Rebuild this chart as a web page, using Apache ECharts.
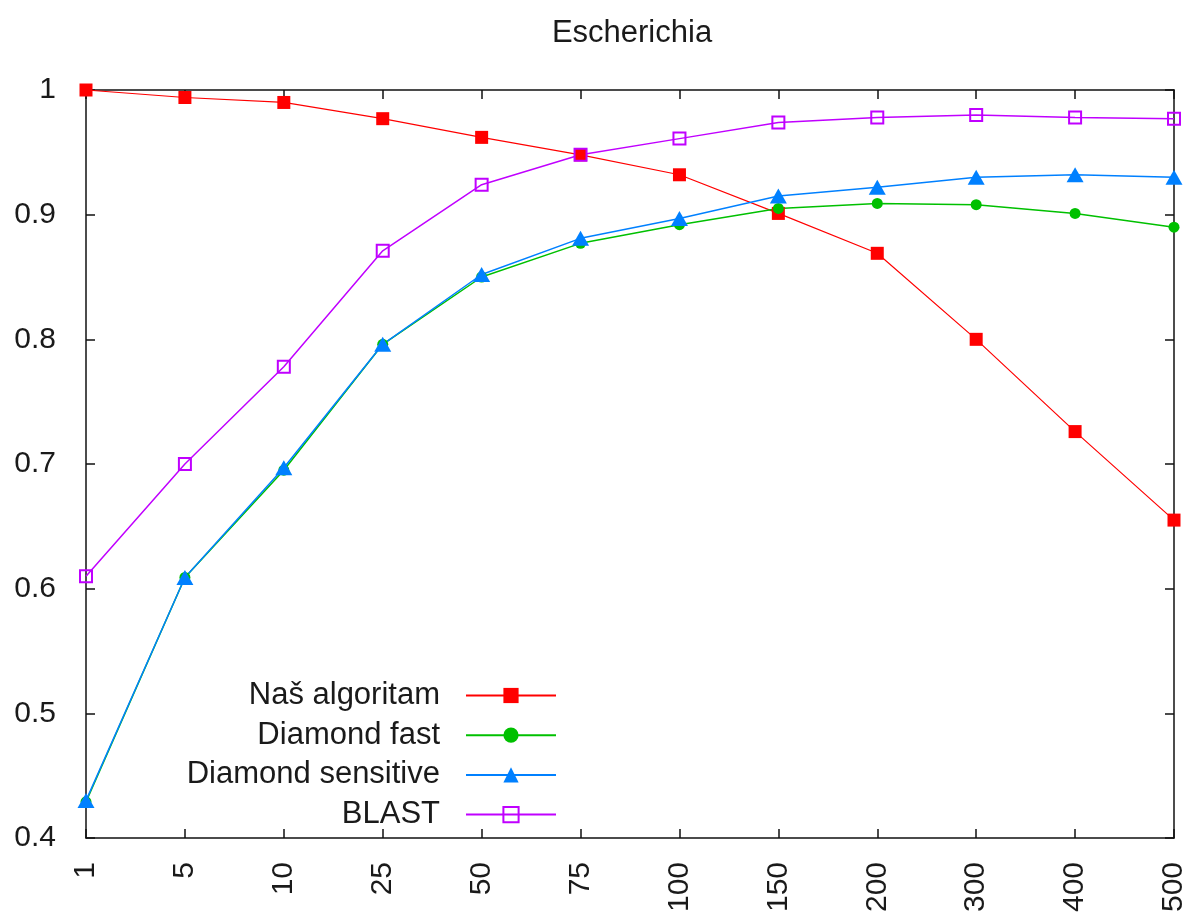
<!DOCTYPE html>
<html>
<head>
<meta charset="utf-8">
<script src="https://cdn.jsdelivr.net/npm/echarts@6/dist/echarts.min.js"></script>
<style>html,body{margin:0;padding:0;background:#fff}#c{width:1189px;height:918px}</style>
</head>
<body>
<div id="c"></div>
<script>
const categories = ['1','5','10','25','50','75','100','150','200','300','400','500'];
const nasAlgoritam = [1.000, 0.994, 0.990, 0.977, 0.962, 0.948, 0.932, 0.901, 0.869, 0.800, 0.726, 0.655];
const diamondFast = [0.429, 0.609, 0.695, 0.796, 0.850, 0.877, 0.892, 0.905, 0.909, 0.908, 0.901, 0.890];
const diamondSensitive = [0.430, 0.609, 0.697, 0.796, 0.852, 0.881, 0.897, 0.915, 0.922, 0.930, 0.932, 0.930];
const blast = [0.610, 0.700, 0.778, 0.871, 0.924, 0.948, 0.961, 0.974, 0.978, 0.980, 0.978, 0.977];
const yTicks = {min: 0.4, max: 1.0, interval: 0.1};

const FONT = '"Liberation Sans", Arial, sans-serif';
const TXT = '#1a1a1a';
const chart = echarts.init(document.getElementById('c'), null, {renderer: 'canvas'});

const axisLineStyle = {color: '#111', width: 1.5};
const tickStyle = {color: '#111', width: 1.5};

chart.setOption({
  animation: false,
  backgroundColor: '#fff',
  title: {
    text: 'Escherichia', left: 627, top: 13, textAlign: 'center',
    textStyle: {fontFamily: FONT, fontSize: 31, fontWeight: 'normal', color: TXT}
  },
  grid: {left: 86, right: 13, top: 90, bottom: 80, containLabel: false},
  legend: {
    orient: 'vertical', right: 627, top: 675, align: 'right',
    itemWidth: 90, itemHeight: 19, itemGap: 8.7,
    textStyle: {fontFamily: FONT, fontSize: 31, color: TXT, lineHeight: 30, padding: [0, 21, 0, 0]},
    data: ['Naš algoritam', 'Diamond fast', 'Diamond sensitive', 'BLAST']
  },
  xAxis: [{
    type: 'category', data: categories, boundaryGap: false, position: 'bottom',
    axisLine: {show: true, lineStyle: axisLineStyle},
    axisTick: {show: true, inside: true, length: 9, lineStyle: tickStyle, alignWithLabel: true},
    axisLabel: {rotate: 90, margin: 24, fontFamily: FONT, fontSize: 30, color: TXT, interval: 0},
    splitLine: {show: false}
  }, {
    type: 'category', data: categories, boundaryGap: false, position: 'top',
    axisLine: {show: true, lineStyle: axisLineStyle},
    axisTick: {show: true, inside: true, length: 9, lineStyle: tickStyle},
    axisLabel: {show: false}, splitLine: {show: false}
  }],
  yAxis: [{
    type: 'value', min: yTicks.min, max: yTicks.max, interval: yTicks.interval, position: 'left',
    axisLine: {show: true, lineStyle: axisLineStyle},
    axisTick: {show: true, inside: true, length: 9, lineStyle: tickStyle},
    axisLabel: {margin: 30, fontFamily: FONT, fontSize: 30, color: TXT,
      formatter: v => (Math.abs(v - 1) < 1e-9 ? '1' : v.toFixed(1))},
    splitLine: {show: false}
  }, {
    type: 'value', min: yTicks.min, max: yTicks.max, interval: yTicks.interval, position: 'right',
    axisLine: {show: true, lineStyle: axisLineStyle},
    axisTick: {show: true, inside: true, length: 9, lineStyle: tickStyle},
    axisLabel: {show: false}, splitLine: {show: false}
  }],
  series: [{
    name: 'Naš algoritam', type: 'line', data: nasAlgoritam,
    symbol: 'rect', symbolSize: 13, color: '#ff0000',
    lineStyle: {color: '#ff0000', width: 1.2}, itemStyle: {color: '#ff0000'}
  }, {
    name: 'Diamond fast', type: 'line', data: diamondFast,
    symbol: 'circle', symbolSize: 11, color: '#00c000',
    lineStyle: {color: '#00c000', width: 1.5}, itemStyle: {color: '#00c000'}
  }, {
    name: 'Diamond sensitive', type: 'line', data: diamondSensitive,
    symbol: 'triangle', symbolSize: [17, 15], color: '#0080ff',
    lineStyle: {color: '#0080ff', width: 1.5}, itemStyle: {color: '#0080ff'}
  }, {
    name: 'BLAST', type: 'line', data: blast,
    symbol: 'rect', symbolSize: 12, color: '#c000ff',
    lineStyle: {color: '#c000ff', width: 1.5},
    itemStyle: {color: 'rgba(255,255,255,0)', borderColor: '#c000ff', borderWidth: 2}
  }]
});
</script>
</body>
</html>
